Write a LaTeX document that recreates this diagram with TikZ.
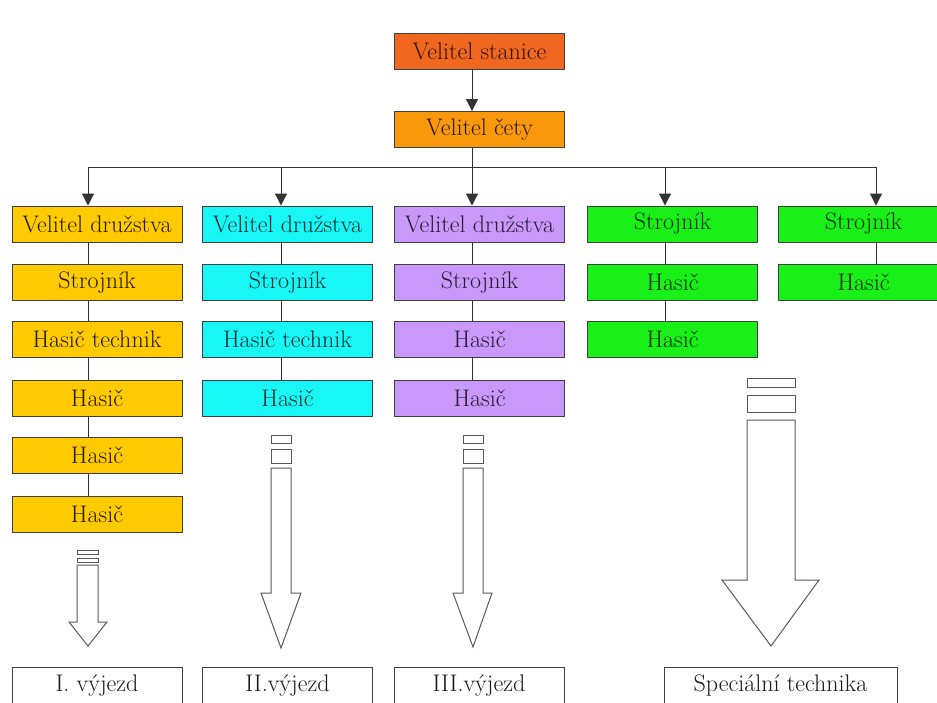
\documentclass[tikz,border=0pt]{standalone}
\usepackage{fontspec}
\usetikzlibrary{arrows.meta}
\definecolor{stanicefill}{RGB}{240,104,32}
\definecolor{cetyfill}{RGB}{250,152,12}
\definecolor{prvnifill}{RGB}{255,202,0}
\definecolor{druhyfill}{RGB}{24,246,246}
\definecolor{tretifill}{RGB}{200,152,250}
\definecolor{specfill}{RGB}{24,240,24}

\begin{document}
\begin{tikzpicture}[x=1pt,y=-1pt,
  box/.style={draw=black!75,line width=0.9pt,minimum width=170pt,minimum height=36pt,
    inner sep=0pt,font=\fontsize{24}{27}\selectfont},
  stanicebox/.style={box,fill=stanicefill,text=stanicefill!20!black},
  cetybox/.style={box,fill=cetyfill,text=cetyfill!18!black},
  prvnibox/.style={box,fill=prvnifill,text=prvnifill!15!black},
  druhybox/.style={box,fill=druhyfill,text=druhyfill!20!black},
  tretibox/.style={box,fill=tretifill,text=tretifill!20!black},
  specbox/.style={box,fill=specfill,text=specfill!20!black},
  vyjezdbox/.style={box,fill=white,text=black!90},
  link/.style={draw=black!80,line width=1pt},
  down/.style={link,-{Triangle[length=12pt,width=12pt]}},
  hollow/.style={draw=black!65,line width=1pt,fill=white}]
  \useasboundingbox (0,0) rectangle (937,702);
  \clip (0,0) rectangle (937,702);

  % vedeni
  \node[stanicebox] (stanice) at (479.5,51) {Velitel stanice};
  \node[cetybox] (cety) at (479.5,129.5) {Velitel čety};

  % sloupce
  \node[prvnibox] (a1) at (97,224) {Velitel družstva};
  \node[prvnibox] (a2) at (97,282.5) {Strojník};
  \node[prvnibox] (a3) at (97,339) {Hasič technik};
  \node[prvnibox] (a4) at (97,398) {Hasič};
  \node[prvnibox] (a5) at (97,455.5) {Hasič};
  \node[prvnibox] (a6) at (97,514) {Hasič};

  \node[druhybox] (b1) at (287.5,224) {Velitel družstva};
  \node[druhybox] (b2) at (287.5,282.5) {Strojník};
  \node[druhybox] (b3) at (287.5,339) {Hasič technik};
  \node[druhybox] (b4) at (287.5,398) {Hasič};

  \node[tretibox] (c1) at (479.5,224) {Velitel družstva};
  \node[tretibox] (c2) at (479.5,282.5) {Strojník};
  \node[tretibox] (c3) at (479.5,339) {Hasič};
  \node[tretibox] (c4) at (479.5,398) {Hasič};

  \node[specbox] (d1) at (672.5,224) {Strojník};
  \node[specbox] (d2) at (672.5,282.5) {Hasič};
  \node[specbox] (d3) at (672.5,339) {Hasič};

  \node[specbox] (e1) at (863.5,224) {Strojník};
  \node[specbox] (e2) at (863.5,282.5) {Hasič};

  % vyjezdy
  \node[vyjezdbox,minimum height=37pt] (v1) at (97,685.5) {I. výjezd};
  \node[vyjezdbox,minimum height=37pt] (v2) at (287.5,685.5) {II.výjezd};
  \node[vyjezdbox,minimum height=37pt] (v3) at (479,685.5) {III.výjezd};
  \node[vyjezdbox,minimum height=37pt,minimum width=233pt] (v4) at (780.5,685.5) {Speciální technika};

  % sbernice
  \coordinate (l1) at (88,167);
  \coordinate (l2) at (281,167);
  \coordinate (l3) at (472,167);
  \coordinate (l4) at (665,167);
  \coordinate (l5) at (876,167);
  \draw[link] (l1) -- (l5);
  \draw[down] (stanice.south -| l3) -- (cety.north -| l3);
  \draw[link] (cety.south -| l3) -- (l3);
  \draw[down] (l1) -- (a1.north -| l1);
  \draw[down] (l2) -- (b1.north -| l2);
  \draw[down] (l3) -- (c1.north -| l3);
  \draw[down] (l4) -- (d1.north -| l4);
  \draw[down] (l5) -- (e1.north -| l5);

  \draw[link] (a1.south -| l1) -- (a2.north -| l1);
  \draw[link] (a2.south -| l1) -- (a3.north -| l1);
  \draw[link] (a3.south -| l1) -- (a4.north -| l1);
  \draw[link] (a4.south -| l1) -- (a5.north -| l1);
  \draw[link] (a5.south -| l1) -- (a6.north -| l1);
  \draw[link] (b1.south -| l2) -- (b2.north -| l2);
  \draw[link] (b2.south -| l2) -- (b3.north -| l2);
  \draw[link] (b3.south -| l2) -- (b4.north -| l2);
  \draw[link] (c1.south -| l3) -- (c2.north -| l3);
  \draw[link] (c2.south -| l3) -- (c3.north -| l3);
  \draw[link] (c3.south -| l3) -- (c4.north -| l3);
  \draw[link] (d1.south -| l4) -- (d2.north -| l4);
  \draw[link] (d2.south -| l4) -- (d3.north -| l4);
  \draw[link] (e1.south -| l5) -- (e2.north -| l5);

  % duté šipky
  \draw[hollow] (77,550) rectangle (98,554);
  \draw[hollow] (77,558) rectangle (98,562);
  \draw[hollow] (77,565) -- (98,565) -- (98,622) -- (107,622) -- (88,646)
    -- (69,622) -- (77,622) -- cycle;

  \draw[hollow] (271,435) rectangle (291,443);
  \draw[hollow] (271,449) rectangle (291,463);
  \draw[hollow] (271,468) -- (291,468) -- (291,593) -- (301,593) -- (281,648)
    -- (261,593) -- (271,593) -- cycle;

  \draw[hollow] (463,435) rectangle (483,443);
  \draw[hollow] (463,449) rectangle (483,463);
  \draw[hollow] (463,468) -- (483,468) -- (483,593) -- (492,593) -- (473,647)
    -- (453,593) -- (463,593) -- cycle;

  \draw[hollow] (747,378) rectangle (795,387);
  \draw[hollow] (747,395) rectangle (795,412);
  \draw[hollow] (747,420) -- (795,420) -- (795,580) -- (819,580) -- (771,646)
    -- (722,580) -- (747,580) -- cycle;
\end{tikzpicture}
\end{document}
